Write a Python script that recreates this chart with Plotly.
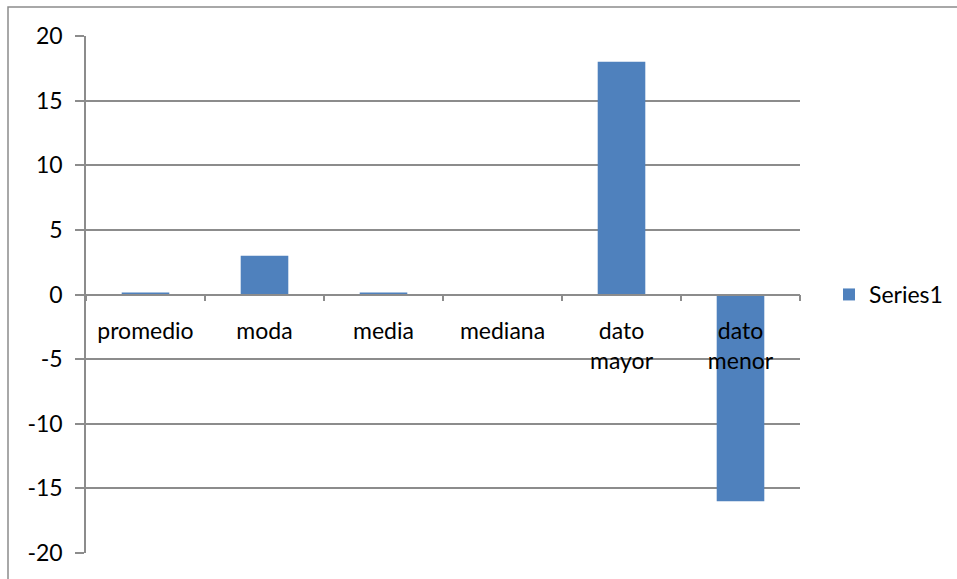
import plotly.graph_objects as go

categories = ["promedio", "moda", "media", "mediana", "dato<br>mayor", "dato<br>menor"]
values = [0.15, 3, 0.15, 0, 18, -16]
series_name = "Series1"
y_ticks = [-20, -15, -10, -5, 0, 5, 10, 15, 20]

W, H = 957, 579
L, R, T, B = 86, 800, 36, 553

fig = go.Figure()
fig.add_trace(go.Bar(
    x=categories, y=values, name=series_name,
    marker=dict(color="#4F81BD", line=dict(width=0)),
    width=0.4,
))

font = dict(family="Lato, 'Open Sans', sans-serif", size=23, color="#000000")

fig.update_layout(
    width=W, height=H,
    margin=dict(l=L, r=W - R, t=T, b=H - B, pad=0, autoexpand=False),
    paper_bgcolor="white", plot_bgcolor="white",
    font=font,
    showlegend=True,
    legend=dict(x=(829 - L) / (R - L), y=0.5, xanchor="left", yanchor="middle",
                font=dict(family="Lato, 'Open Sans', sans-serif", size=23),
                itemwidth=30, bgcolor="rgba(0,0,0,0)"),
    xaxis=dict(
        anchor="free", position=0.5,
        showline=True, linecolor="#8C8C8C", linewidth=1.5,
        ticks="outside", tickson="boundaries", ticklen=6, tickcolor="#8C8C8C", tickwidth=1.5,
        showgrid=False, tickfont=font, ticklabelstandoff=16,
    ),
    yaxis=dict(
        range=[-20, 20], tickvals=y_ticks, ticktext=[str(v) for v in y_ticks],
        showline=True, linecolor="#8C8C8C", linewidth=1.5,
        ticks="outside", ticklen=9, tickcolor="#8C8C8C", tickwidth=1.5,
        showgrid=True, gridcolor="#8C8C8C", gridwidth=1.5,
        zeroline=False, tickfont=font, ticklabelstandoff=8,
    ),
    shapes=[dict(
        type="rect", xref="paper", yref="paper",
        x0=(8 - L) / (R - L), x1=(1000 - L) / (R - L),
        y0=(B - 620) / (B - T), y1=(B - 7) / (B - T),
        line=dict(color="#8C8C8C", width=1.5), fillcolor="rgba(0,0,0,0)", layer="below",
    )],
)

fig.write_html("out.html")
